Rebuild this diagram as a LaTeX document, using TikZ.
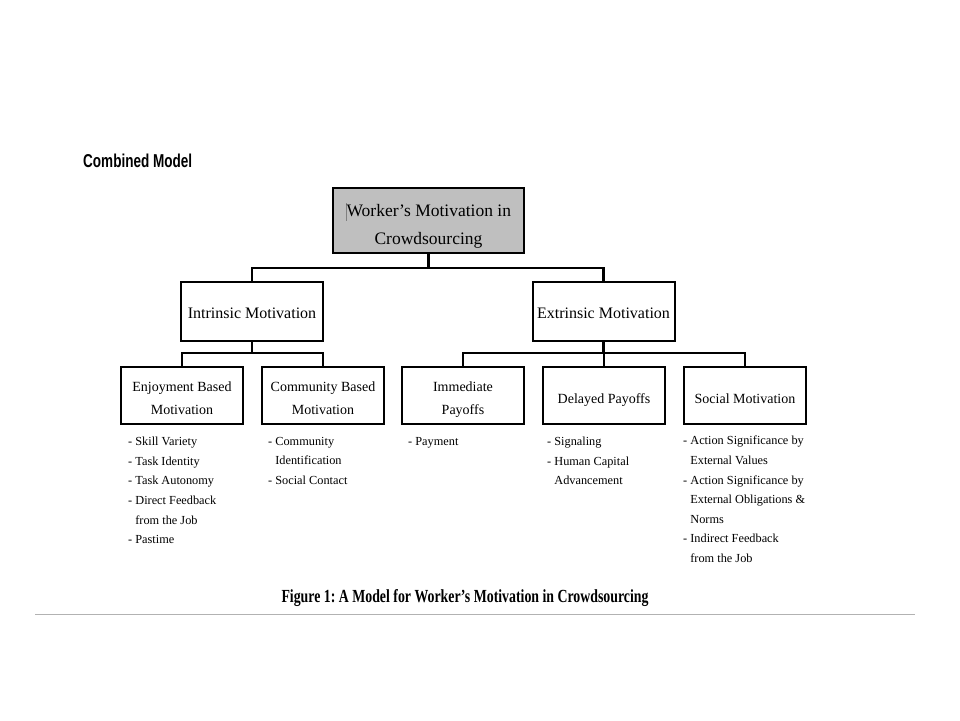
\documentclass[tikz,border=0pt]{standalone}
\usepackage{fontspec}
\setmainfont{Liberation Serif}
\newfontfamily\headsans{Liberation Sans}
\usepackage{graphicx}
\frenchspacing
\begin{document}
\begin{tikzpicture}[x=1pt,y=-1pt,
  box/.style={draw=black,line width=2pt,fill=white,inner sep=0pt,
    minimum width=122pt,minimum height=57pt},
  midbox/.style={box,minimum width=142pt,minimum height=59pt},
  topbox/.style={box,fill=black!25,line width=2.4pt,minimum width=191pt,minimum height=65pt},
  btxt/.style={align=center,inner sep=0pt,font=\fontsize{14}{23}\selectfont},
  mtxt/.style={align=center,inner sep=0pt,font=\fontsize{16}{20}\selectfont},
  ttxt/.style={align=center,inner sep=0pt,font=\fontsize{17.5}{28}\selectfont},
  conn/.style={draw=black,line width=2.8pt},
  blist/.style={anchor=north west,inner sep=0pt,align=left,font=\fontsize{12.3}{19.6}\selectfont}]
\useasboundingbox (0,0) rectangle (960,720);
\fill[white] (0,0) rectangle (960,720);

\node[anchor=base west,inner sep=0pt] (title) at (83,167) {\resizebox{109pt}{13.5pt}{\headsans\bfseries Combined Model}};

\node[topbox,label={[ttxt,yshift=-5pt]center:{\textcolor{gray}{\rule[-0.25em]{0.6pt}{1.05em}}Worker's Motivation in\\Crowdsourcing}}] (root) at (428.5,220.5) {};

\node[midbox,label={[mtxt,yshift=-2pt]center:{Intrinsic Motivation}}] (intr) at (252,311.5) {};
\node[midbox,label={[mtxt,yshift=-2pt]center:{Extrinsic Motivation}}] (ext) at (603.5,311.5) {};

\node[box,label={[btxt,yshift=-3pt]center:{Enjoyment Based\\Motivation}}] (enj) at (182,395.5) {};
\node[box,label={[btxt,yshift=-3pt]center:{Community Based\\Motivation}}] (com) at (323,395.5) {};
\node[box,label={[btxt,yshift=-4pt]center:{Immediate\\Payoffs}}] (imm) at (463,395.5) {};
\node[box,label={[btxt,yshift=-5pt]center:{Delayed Payoffs}}] (del) at (604,395.5) {};
\node[box,label={[btxt,yshift=-3pt]center:{Social Motivation}}] (soc) at (745,395.5) {};

\draw[conn] (root.south) -- (root.south |- 0,268);
\draw[conn] (intr.north) -- (intr.north |- 0,268) -- (ext.north |- 0,268) -- (ext.north);
\draw[conn] (intr.south) -- (intr.south |- 0,353);
\draw[conn] (enj.north) -- (enj.north |- 0,353) -- (com.north |- 0,353) -- (com.north);
\draw[conn] (ext.south) -- (ext.south |- 0,353);
\draw[conn] (imm.north) -- (imm.north |- 0,353) -- (soc.north |- 0,353) -- (soc.north);
\draw[conn] (del.north) -- (del.north |- 0,353);

\node[blist] (enjl) at (128,437) {- Skill Variety\\- Task Identity\\- Task Autonomy\\- Direct Feedback\\\phantom{-\ }from the Job\\- Pastime};
\node[blist] (coml) at (268,437) {- Community\\\phantom{-\ }Identification\\- Social Contact};
\node[blist] (imml) at (408,437) {- Payment};
\node[blist] (dell) at (547,437) {- Signaling\\- Human Capital\\\phantom{-\ }Advancement};
\node[blist] (socl) at (683,436) {- Action Significance by\\\phantom{-\ }External Values\\- Action Significance by\\\phantom{-\ }External Obligations \&\\\phantom{-\ }Norms\\- Indirect Feedback\\\phantom{-\ }from the Job};

\node[anchor=base,inner sep=0pt] (cap) at (465,602) {\resizebox{367pt}{13pt}{\bfseries Figure 1: A Model for Worker’s Motivation in Crowdsourcing}};
\coordinate (gl) at (35,614);
\coordinate (gr) at (915,614);
\draw[black!30,line width=1pt] (gl) -- (gr);
\end{tikzpicture}
\end{document}
